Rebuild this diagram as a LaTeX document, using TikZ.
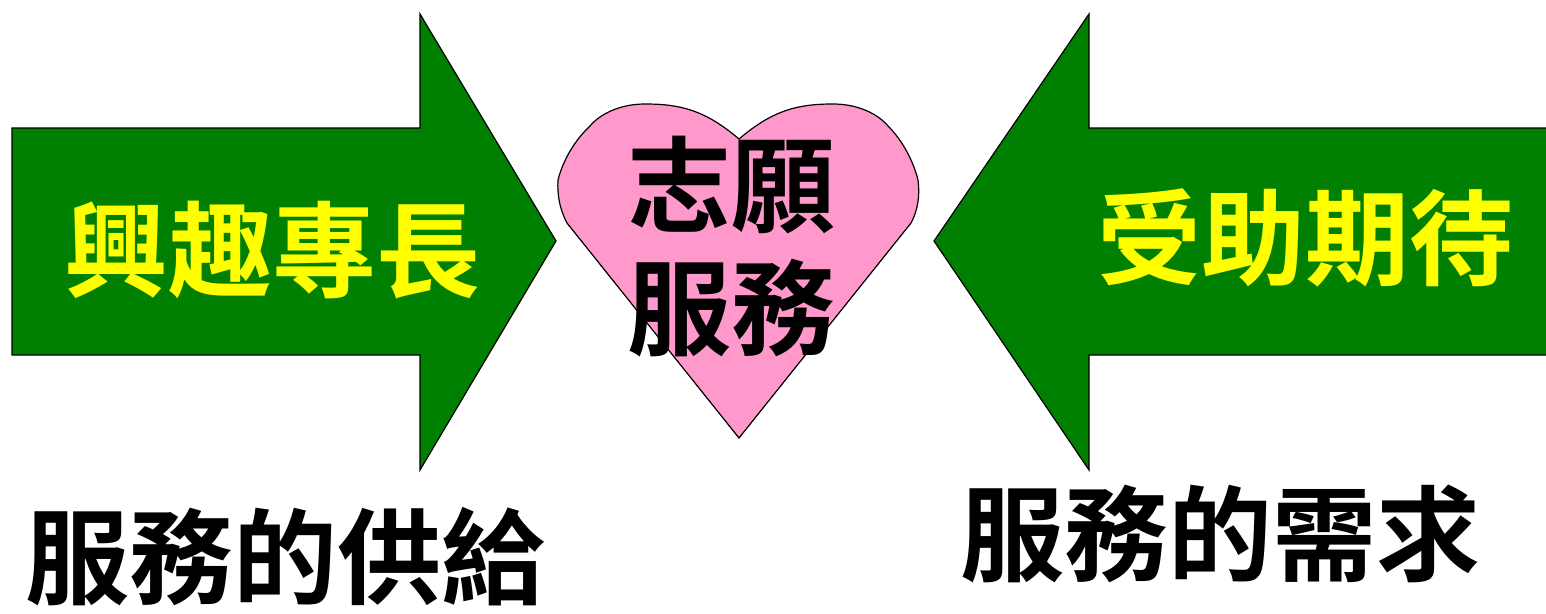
\documentclass[tikz,border=0pt]{standalone}
\usepackage{fontspec}
\newfontfamily\cjk{Noto Sans CJK TC}[BoldFont={* Bold}]
\definecolor{arrowgreen}{RGB}{0,128,0}
\definecolor{textyellow}{RGB}{255,255,0}
\definecolor{heartpink}{RGB}{255,153,204}
\begin{document}
\begin{tikzpicture}[x=1pt,y=-1pt,
  bigarrow/.style={fill=arrowgreen,draw=black,line width=1.2pt,line join=miter},
  heartshape/.style={fill=heartpink,draw=black,line width=1.2pt,line join=miter},
  cjktext/.style={font=\cjk\bfseries\fontsize{104}{123}\selectfont,inner sep=0pt,align=center}]
\useasboundingbox (0,0) rectangle (1546,613);
% left arrow
\draw[bigarrow] (12,128) -- (420,128) -- (420,14) -- (556,241) -- (420,470) -- (420,355) -- (12,355) -- cycle;
% right arrow
\draw[bigarrow] (1546,128) -- (1089,128) -- (1089,14) -- (934,241) -- (1089,470) -- (1089,355) -- (1546,355);
% heart
\draw[heartshape] (739,139) .. controls (705,110) and (680,104) .. (645,104)
  .. controls (620,104) and (600,114) .. (590,126)
  .. controls (575,140) and (563,160) .. (558,180)
  .. controls (557,195) and (560,210) .. (567,223)
  -- (739,438) -- (911,223)
  .. controls (918,210) and (920,195) .. (918,180)
  .. controls (913,160) and (902,140) .. (888,126)
  .. controls (878,114) and (858,104) .. (833,104)
  .. controls (798,104) and (773,110) .. (739,139) -- cycle;
\node[cjktext,text=textyellow] (supply) at (272,250) {興趣專長};
\node[cjktext,text=textyellow] (demand) at (1305,238) {受助期待};
\node[cjktext,text=black] (volunteer) at (731,247) {志願\\服務};
\node[cjktext,text=black] (supplylabel) at (285,557) {服務的供給};
\node[cjktext,text=black] (demandlabel) at (1220,534) {服務的需求};
\end{tikzpicture}
\end{document}
